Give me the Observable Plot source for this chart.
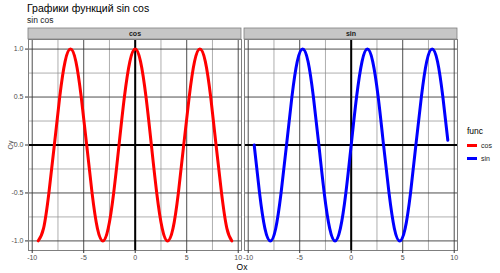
<!DOCTYPE html>
<html><head><meta charset="utf-8">
<script src="https://cdn.jsdelivr.net/npm/d3@7"></script>
<script src="https://cdn.jsdelivr.net/npm/@observablehq/plot@0.6"></script>
<style>
body{margin:0;background:#fff;font-family:"Liberation Sans",Arial,sans-serif;}
#wrap{position:relative;width:500px;height:273px;overflow:hidden;background:#fff;}
#title{position:absolute;left:27px;top:2px;font-size:10.5px;color:#000;white-space:nowrap;}
#subtitle{position:absolute;left:27px;top:15px;font-size:8.5px;color:#1a1a1a;white-space:nowrap;}
#chart{position:absolute;left:0;top:25px;}
#xlab{position:absolute;left:242px;top:262px;transform:translateX(-50%);font-size:8.5px;line-height:10px;color:#000;}
#legend{position:absolute;left:467px;top:126px;font-size:7px;color:#1a1a1a;}
#legend .lt{font-size:8.5px;color:#000;margin-bottom:3px;}
#legend .row{display:flex;align-items:center;height:13px;}
#legend .key{width:10px;height:3px;margin-right:4px;}
</style></head><body>
<div id="wrap">
<div id="title"></div>
<div id="subtitle"></div>
<div id="chart"></div>
<div id="xlab"></div>
<div id="legend"></div>
</div>
<script>
const titleText = "Графики функций sin cos";
const subtitleText = "sin cos";
const xLabel = "Ox";
const yLabel = "Oy";
const legendTitle = "func";
const funcs = ["cos", "sin"];
const colors = ["red", "blue"];
const xs = [-9.42,-8.90,-8.38,-7.85,-7.33,-6.81,-6.28,-5.76,-5.24,-4.71,-4.19,-3.67,-3.14,-2.62,-2.09,-1.57,-1.05,-0.52,0,0.52,1.05,1.57,2.09,2.62,3.14,3.67,4.19,4.71,5.24,5.76,6.28,6.81,7.33,7.85,8.38,8.90,9.38];
const cosVals = [-1,-0.87,-0.5,0,0.5,0.87,1,0.87,0.5,0,-0.5,-0.87,-1,-0.87,-0.5,0,0.5,0.87,1,0.87,0.5,0,-0.5,-0.87,-1,-0.87,-0.5,0,0.5,0.87,1,0.87,0.5,0,-0.5,-0.87,-1];
const sinVals = [0,-0.5,-0.87,-1,-0.87,-0.5,0,0.5,0.87,1,0.87,0.5,0,-0.5,-0.87,-1,-0.87,-0.5,0,0.5,0.87,1,0.87,0.5,0,-0.5,-0.87,-1,-0.87,-0.5,0,0.5,0.87,1,0.87,0.5,0.05];
const xMajor = [-10,-5,0,5,10];
const xMinor = [-7.5,-2.5,2.5,7.5];
const yMajor = [-1,-0.5,0,0.5,1];
const yMinor = [-0.75,-0.25,0.25,0.75];

document.getElementById("title").textContent = titleText;
document.getElementById("subtitle").textContent = subtitleText;
document.getElementById("xlab").textContent = xLabel;

const rows = [];
xs.forEach((x, i) => {
  rows.push({func: "cos", x, y: cosVals[i]});
  rows.push({func: "sin", x, y: sinVals[i]});
});

function expand(ext) { const d = (ext[1] - ext[0]) * 0.05; return [ext[0] - d, ext[1] + d]; }
const xDom = expand(d3.extent(rows, d => d.x));
const yDom = expand(d3.extent(rows, d => d.y));

const H = 248, mTop = 14, mBottom = 23;
const stripPx = 11;
const stripH = (yDom[1] - yDom[0]) / (H - mTop - mBottom) * stripPx;

const chart = Plot.plot({
  width: 460, height: H,
  marginLeft: 27, marginRight: 3, marginTop: mTop, marginBottom: mBottom,
  style: {fontFamily: '"Liberation Sans", Arial, sans-serif', fontSize: "7px", color: "#4d4d4d", background: "transparent", overflow: "visible"},
  x: {domain: xDom},
  y: {domain: yDom},
  fx: {domain: funcs, paddingInner: 0.014, paddingOuter: 0, axis: null},
  color: {domain: funcs, range: colors},
  marks: [
    Plot.ruleX(xMinor, {stroke: "#8c8c8c", strokeWidth: 0.7}),
    Plot.ruleY(yMinor, {stroke: "#8c8c8c", strokeWidth: 0.7}),
    Plot.ruleX(xMajor, {stroke: "#3a3a3a", strokeWidth: 0.9}),
    Plot.ruleY(yMajor, {stroke: "#3a3a3a", strokeWidth: 0.9}),
    Plot.ruleX([0], {stroke: "#000", strokeWidth: 2}),
    Plot.ruleY([0], {stroke: "#000", strokeWidth: 2}),
    Plot.line(rows, {x: "x", y: "y", fx: "func", stroke: "func", strokeWidth: 3, curve: "natural"}),
    Plot.frame({stroke: "#7f7f7f"}),
    Plot.rect(funcs, {fx: d => d, x1: xDom[0], x2: xDom[1], y1: yDom[1], y2: yDom[1] + stripH, fill: "#c6c6c6", stroke: "#7f7f7f", strokeWidth: 0.8}),
    Plot.text(funcs, {fx: d => d, x: (xDom[0] + xDom[1]) / 2, y: yDom[1] + stripH / 2, text: d => d, fontWeight: "bold", fill: "#1a1a1a", fontSize: 7}),
    Plot.axisX({ticks: xMajor, tickSize: 3, tickPadding: 1.5, tickFormat: d => String(d), label: null, stroke: "#333"}),
    Plot.axisY({ticks: yMajor, tickSize: 3, tickPadding: 2, tickFormat: d => d.toFixed(1), label: yLabel, labelAnchor: "center", labelOffset: 20, labelArrow: "none", stroke: "#333"})
  ]
});
document.getElementById("chart").appendChild(chart);

const leg = document.getElementById("legend");
const lt = document.createElement("div"); lt.className = "lt"; lt.textContent = legendTitle; leg.appendChild(lt);
funcs.forEach((f, i) => {
  const r = document.createElement("div"); r.className = "row";
  const k = document.createElement("div"); k.className = "key"; k.style.background = colors[i];
  const t = document.createElement("span"); t.textContent = f;
  r.appendChild(k); r.appendChild(t); leg.appendChild(r);
});
</script>
</body></html>
